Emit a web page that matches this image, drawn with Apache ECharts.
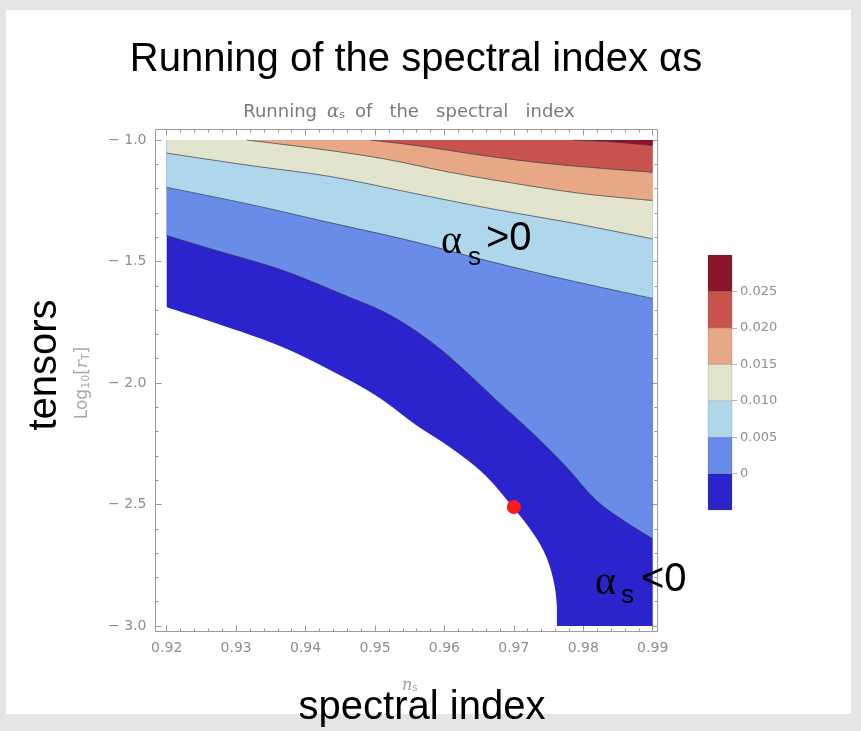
<!DOCTYPE html>
<html>
<head>
<meta charset="utf-8">
<script src="https://cdn.jsdelivr.net/npm/echarts@6/dist/echarts.min.js"></script>
<style>
html,body{margin:0;padding:0;background:#e5e5e5;}
#c{width:861px;height:731px;}
</style>
</head>
<body>
<div id="c"></div>
<script>
// ---------- data ----------
const nsRange = [0.92, 0.99];
const logRRange = [-3.0, -1.0];
const contourLevels = [-0.005, 0, 0.005, 0.010, 0.015, 0.020, 0.025, 0.030];
const colorbarLabels = [0, 0.005, 0.010, 0.015, 0.020, 0.025];
const levelColors = ['#2b23cc', '#688ce8', '#afd7eb', '#e2e4ce', '#e8a885', '#c8524e', '#8c1428'];

// lower edge of the region with solutions (white below)
const edgeNoSolution = [[0.9200,-1.688],[0.9272,-1.755],[0.9368,-1.854],[0.9464,-1.990],[0.9512,-2.072],[0.9560,-2.175],[0.9608,-2.264],[0.9656,-2.372],[0.9699,-2.512],[0.9728,-2.619],[0.9747,-2.717],[0.9759,-2.840],[0.9764,-3.000]];
const edgeFloor = [[0.9762,-3.0],[0.9900,-3.0]];
// contour lines alpha_s = level
const contour000 = [[0.9200,-1.393],[0.9272,-1.455],[0.9368,-1.537],[0.9464,-1.648],[0.9512,-1.706],[0.9560,-1.788],[0.9608,-1.894],[0.9680,-2.084],[0.9728,-2.209],[0.9776,-2.347],[0.9819,-2.484],[0.9858,-2.566],[0.9900,-2.641]];
const contour005 = [[0.9200,-1.195],[0.9320,-1.265],[0.9435,-1.340],[0.9550,-1.414],[0.9666,-1.500],[0.9781,-1.578],[0.9900,-1.652]];
const contour010 = [[0.9200,-1.054],[0.9320,-1.105],[0.9435,-1.150],[0.9550,-1.216],[0.9666,-1.282],[0.9781,-1.340],[0.9900,-1.407]];
const contour015 = [[0.9315,-1.000],[0.9416,-1.036],[0.9512,-1.077],[0.9608,-1.133],[0.9704,-1.180],[0.9800,-1.221],[0.9900,-1.249]];
const contour020 = [[0.9493,-1.000],[0.9560,-1.023],[0.9656,-1.064],[0.9752,-1.098],[0.9900,-1.133]];
const contour025 = [[0.9786,-1.000],[0.9848,-1.009],[0.9900,-1.023]];
const modelPoint = [[0.970,-2.51]];

// ---------- layout ----------
const G = {left:166.7, top:140, width:486, height:486};
const FR = {x:155.5, y:129.5, w:502, h:502};
const tickColor = '#9a9a9a';
const labelColor = '#8e8e8e';

const chart = echarts.init(document.getElementById('c'), null, {renderer:'canvas', width:861, height:731});

function areaSeries(data, color, withLine, smooth){
  return {
    type:'line', xAxisIndex:0, yAxisIndex:0, data:data,
    showSymbol:false, symbol:'none', smooth: smooth === undefined ? 0.35 : smooth,
    lineStyle: withLine ? {color:'rgba(55,58,72,0.7)', width:1} : {width:0, opacity:0},
    areaStyle:{color:color, opacity:1, origin:'end'},
    silent:true, clip:true
  };
}

const frameAxisCommon = {
  axisLine:{show:false},
  splitLine:{show:false},
  axisTick:{show:true, inside:true, length:6, lineStyle:{color:tickColor}},
  minorTick:{show:true, splitNumber:5, length:3, lineStyle:{color:tickColor}}
};

const option = {
  animation:false,
  backgroundColor:'#e5e5e5',
  grid:[
    {left:G.left, top:G.top, width:G.width, height:G.height, containLabel:false},
    {left:708, top:255, width:24, height:255, containLabel:false}
  ],
  xAxis:[
    Object.assign({
      type:'value', gridIndex:0, min:nsRange[0], max:nsRange[1], interval:0.01, position:'bottom', offset:5.5,
      axisLabel:{color:labelColor, fontFamily:'DejaVu Sans', fontSize:14, margin:10, formatter:v=>v.toFixed(2)},
      name:'{it|n}{sub|s}', nameLocation:'middle', nameGap:46,
      nameTextStyle:{color:'#a0a0a0', rich:{it:{fontFamily:'DejaVu Serif', fontStyle:'italic', fontSize:16, color:'#a0a0a0'}, sub:{fontFamily:'DejaVu Sans', fontSize:10, color:'#a0a0a0', verticalAlign:'bottom', padding:[6,0,0,0]}}}
    }, frameAxisCommon),
    Object.assign({
      type:'value', gridIndex:0, min:nsRange[0], max:nsRange[1], interval:0.01, position:'top', offset:10.5,
      axisLabel:{show:false}
    }, frameAxisCommon),
    {type:'category', gridIndex:1, data:['bar'], show:false}
  ],
  yAxis:[
    Object.assign({
      type:'value', gridIndex:0, min:logRRange[0], max:logRRange[1], interval:0.5, position:'left', offset:11.2,
      axisLabel:{color:labelColor, fontFamily:'DejaVu Sans', fontSize:14, margin:9, formatter:v=>'\u2212 '+Math.abs(v).toFixed(1)},
      name:'{t|Log}{sub|10}{t|[}{it|r}{sub|T}{t|]}', nameLocation:'middle', nameGap:64,
      nameTextStyle:{color:'#a8a8a8', rich:{t:{fontFamily:'DejaVu Sans', fontSize:17, color:'#a8a8a8'}, it:{fontFamily:'DejaVu Serif', fontStyle:'italic', fontSize:17, color:'#a8a8a8'}, sub:{fontFamily:'DejaVu Sans', fontSize:11, color:'#a8a8a8', verticalAlign:'bottom'}}}
    }, frameAxisCommon),
    Object.assign({
      type:'value', gridIndex:0, min:logRRange[0], max:logRRange[1], interval:0.5, position:'right', offset:4.8,
      axisLabel:{show:false}
    }, frameAxisCommon),
    {
      type:'value', gridIndex:1, min:contourLevels[0], max:contourLevels[contourLevels.length-1], interval:0.005, position:'right',
      axisLine:{show:false}, splitLine:{show:false},
      axisTick:{show:true, length:5, customValues:colorbarLabels, lineStyle:{color:'#b5b5b5'}},
      axisLabel:{color:labelColor, fontFamily:'DejaVu Sans', fontSize:13, margin:8, customValues:colorbarLabels,
        formatter:v=>{
          if (v < contourLevels[0] + 1e-9 || v > contourLevels[contourLevels.length-1] - 1e-9) return '';
          if (Math.abs(v) < 1e-9) return '0';
          return v.toFixed(3);
        }}
    }
  ],
  series:[
    areaSeries(edgeNoSolution, levelColors[0], false, 0.35),
    areaSeries(edgeFloor, levelColors[0], false, false),
    areaSeries(contour000, levelColors[1], true),
    areaSeries(contour005, levelColors[2], true),
    areaSeries(contour010, levelColors[3], true),
    areaSeries(contour015, levelColors[4], true),
    areaSeries(contour020, levelColors[5], true),
    areaSeries(contour025, levelColors[6], true),
    {
      type:'scatter', xAxisIndex:0, yAxisIndex:0, data:modelPoint, symbolSize:14,
      itemStyle:{color:'#ff1a1a', opacity:1}, z:10, silent:true
    },
    {
      type:'custom', xAxisIndex:2, yAxisIndex:2,
      data: levelColors.map((c,i)=>[0, contourLevels[i], contourLevels[i+1], i]),
      renderItem:function(params, api){
        const lo = api.coord([0, api.value(1)]);
        const hi = api.coord([0, api.value(2)]);
        const w = api.size([1, 0])[0];
        return {
          type:'rect',
          shape:{x:lo[0]-w/2, y:hi[1], width:w, height:lo[1]-hi[1]},
          style:{fill:levelColors[api.value(3)], stroke:'rgba(90,90,100,0.35)', lineWidth:0.6}
        };
      },
      silent:true
    }
  ],
  graphic:[
    {type:'rect', z:-100, shape:{x:6, y:10, width:845, height:704}, style:{fill:'#ffffff'}, silent:true},
    {type:'rect', z:100, shape:{x:FR.x, y:FR.y, width:FR.w, height:FR.h}, style:{fill:null, stroke:'#9c9c9c', lineWidth:1}, silent:true},
    {type:'text', z:100, x:409, y:112, style:{
      text:'{t|Running}   {a|α}{sub|s}   {t|of   the   spectral   index}',
      rich:{t:{fontFamily:'DejaVu Sans', fontSize:18, fill:'#7a7a7a'}, a:{fontFamily:'DejaVu Serif', fontStyle:'italic', fontSize:18, fill:'#7a7a7a'}, sub:{fontFamily:'DejaVu Sans', fontSize:11, fill:'#7a7a7a', verticalAlign:'bottom'}},
      align:'center', verticalAlign:'middle', textAlign:'center', textVerticalAlign:'middle'}},
    {type:'text', z:100, x:416, y:60, style:{
      text:'Running of the spectral index αs', font:'40px "Liberation Sans", Arial, sans-serif', fill:'#000',
      align:'center', verticalAlign:'middle', textAlign:'center', textVerticalAlign:'middle'}},
    {type:'text', z:100, x:45, y:365, rotation:Math.PI/2, style:{
      text:'tensors', font:'40px "Liberation Sans", Arial, sans-serif', fill:'#000',
      align:'center', verticalAlign:'middle', textAlign:'center', textVerticalAlign:'middle'}},
    {type:'text', z:100, x:422, y:708, style:{
      text:'spectral index', font:'40px "Liberation Sans", Arial, sans-serif', fill:'#000',
      align:'center', verticalAlign:'middle', textAlign:'center', textVerticalAlign:'middle'}},
    // annotation alpha_s > 0
    {type:'text', z:100, x:441, y:242, style:{text:'α', font:'40px "Liberation Serif", serif', fill:'#000', align:'left', verticalAlign:'middle', textAlign:'left', textVerticalAlign:'middle'}},
    {type:'text', z:100, x:468, y:258, style:{text:'s', font:'26px "Liberation Sans", Arial, sans-serif', fill:'#000', align:'left', verticalAlign:'middle', textAlign:'left', textVerticalAlign:'middle'}},
    {type:'text', z:100, x:486, y:239, style:{text:'>0', font:'40px "Liberation Sans", Arial, sans-serif', fill:'#000', align:'left', verticalAlign:'middle', textAlign:'left', textVerticalAlign:'middle'}},
    // annotation alpha_s < 0
    {type:'text', z:100, x:595, y:583, style:{text:'α', font:'40px "Liberation Serif", serif', fill:'#000', align:'left', verticalAlign:'middle', textAlign:'left', textVerticalAlign:'middle'}},
    {type:'text', z:100, x:621, y:596, style:{text:'s', font:'26px "Liberation Sans", Arial, sans-serif', fill:'#000', align:'left', verticalAlign:'middle', textAlign:'left', textVerticalAlign:'middle'}},
    {type:'text', z:100, x:641, y:580, style:{text:'<0', font:'40px "Liberation Sans", Arial, sans-serif', fill:'#000', align:'left', verticalAlign:'middle', textAlign:'left', textVerticalAlign:'middle'}}
  ]
};
chart.setOption(option);
</script>
</body>
</html>
